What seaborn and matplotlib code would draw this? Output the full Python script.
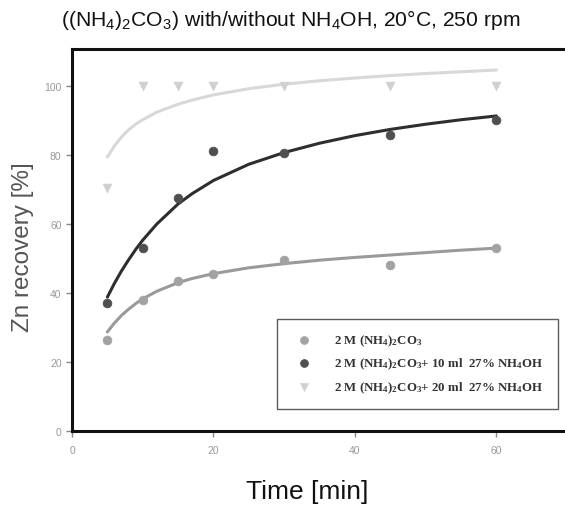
import numpy as np
import pandas as pd
import matplotlib
matplotlib.use('Agg')
import matplotlib.pyplot as plt
import seaborn as sns

sns.set_style("white")
plt.rcParams['font.family'] = ['Liberation Sans', 'DejaVu Sans']

# measured points
time_pts = [5, 10, 15, 20, 30, 45, 60]
rec_plain = [26.5, 38, 43.5, 45.5, 49.5, 48, 53]
rec_10ml = [37, 53, 67.5, 81, 80.5, 85.8, 90]
rec_20ml = [70.5, 100, 100, 100, 100, 100, 100]

# fitted curves
time_fit = [5, 6, 7, 8, 9, 10, 12, 15, 17, 20, 25, 30, 35, 40, 45, 50, 55, 60]
fit_plain = [28.7, 31.3, 33.5, 35.3, 36.9, 38.3, 40.5, 43.0, 44.2, 45.6, 47.3, 48.5,
             49.5, 50.3, 51.0, 51.7, 52.4, 53.0]
fit_10ml = [38.8, 42.8, 46.4, 49.6, 52.6, 55.3, 60.0, 65.8, 68.8, 72.6, 77.3, 80.7,
            83.4, 85.6, 87.4, 88.9, 90.2, 91.3]
fit_20ml = [79.4, 82.6, 85.2, 87.3, 88.9, 90.2, 92.4, 94.7, 95.9, 97.4, 99.2, 100.5,
            101.5, 102.3, 103.0, 103.6, 104.1, 104.6]

labels = [r"2 M (NH$\mathregular{_4}$)$\mathregular{_2}$CO$\mathregular{_3}$",
          r"2 M (NH$\mathregular{_4}$)$\mathregular{_2}$CO$\mathregular{_3}$+ 10 ml  27% NH$\mathregular{_4}$OH",
          r"2 M (NH$\mathregular{_4}$)$\mathregular{_2}$CO$\mathregular{_3}$+ 20 ml  27% NH$\mathregular{_4}$OH"]
colors = ['#a2a2a2', '#4f4f4f', '#d0d0d0']
line_colors = ['#9a9a9a', '#2e2e2e', '#d8d8d8']
markers = ['o', 'o', 'v']

fig = plt.figure(figsize=(5.65, 5.06), dpi=100)
ax = fig.add_axes([72 / 565, 74 / 506, 493 / 565, 382 / 506])

series = [(rec_plain, fit_plain), (rec_10ml, fit_10ml), (rec_20ml, fit_20ml)]
for i, (pts, fit) in enumerate(series):
    sns.lineplot(x=time_fit, y=fit, ax=ax, color=line_colors[i], lw=2.2, zorder=2)
    sns.scatterplot(x=time_pts, y=pts, ax=ax, color=colors[i], marker=markers[i],
                    s=40, edgecolor=colors[i], linewidth=0.5, zorder=3, label=labels[i])

ax.set_xlim(0, 69.7)
ax.set_ylim(0, 110.7)
ax.set_xticks([0, 20, 40, 60])
ax.set_yticks([0, 20, 40, 60, 80, 100])
ax.tick_params(axis='both', direction='out', length=4, width=1, color='#888888',
               labelsize=7.5, labelcolor='#999999', left=True, bottom=True)
ax.tick_params(axis='x', pad=6)

for side in ['left', 'bottom', 'top']:
    ax.spines[side].set_linewidth(2.2)
    ax.spines[side].set_color('#111111')
ax.spines['right'].set_visible(False)

ax.set_xlabel('Time [min]', fontsize=19, color='#111111')
ax.xaxis.set_label_coords(0.478, -0.125)
ax.set_ylabel('Zn recovery [%]', fontsize=17.5, color='#555555')
ax.yaxis.set_label_coords(-0.078, 0.485)

fig.text(0.515, 0.96, r"((NH$\mathregular{_4}$)$\mathregular{_2}$CO$\mathregular{_3}$) with/without NH$\mathregular{_4}$OH, 20°C, 250 rpm",
         ha='center', va='center', fontsize=15.2, color='#111111')

leg = ax.legend(loc='lower right', bbox_to_anchor=(0.985, 0.058), borderaxespad=0,
                frameon=True, fancybox=False,
                prop={'family': 'Liberation Serif', 'size': 9.3, 'weight': 'bold'},
                borderpad=1.1, handletextpad=1.3, labelspacing=0.6, markerscale=0.9)
leg.get_frame().set_edgecolor('#333333')
leg.get_frame().set_linewidth(1.0)
for t in leg.get_texts():
    t.set_color('#333333')

fig.savefig('out.png', dpi=100)
